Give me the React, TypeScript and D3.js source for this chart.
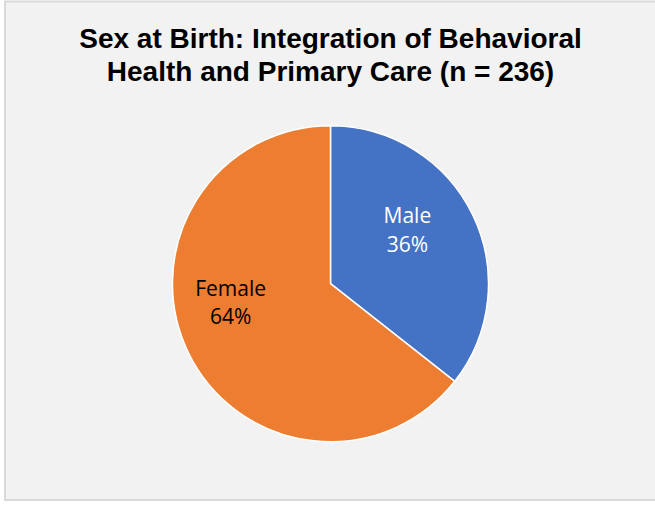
import React from "react";
import * as d3 from "d3";

const categories = ["Male", "Female"];
const values = [35.6, 64.4];
const colors = ["#4472C4", "#ED7D31"];
const labelColors = ["#FFFFFF", "#000000"];
const labelNudges: [number, number][] = [[-8.4, -4.6], [-14.6, -15.3]];
const titleLines = [
  "Sex at Birth: Integration of Behavioral",
  "Health and Primary Care (n = 236)",
];

const W = 655;
const H = 508;
const cx = 330.5;
const cy = 283.7;
const R = 158;

export default function App() {
  const pie = d3.pie<number>().sort(null).value((d) => d)(values);
  const arc = d3.arc<d3.PieArcDatum<number>>().innerRadius(0).outerRadius(R);
  const labelArc = d3
    .arc<d3.PieArcDatum<number>>()
    .innerRadius(R * 0.6)
    .outerRadius(R * 0.6);
  const pct = (v: number) => Math.round(v) + "%";
  return (
    <div style={{ position: "absolute", left: 0, top: 0 }}>
      <svg width={W} height={H} style={{ display: "block" }}>
        <rect x={0} y={0} width={W} height={H} fill="#ffffff" />
        <rect x={5} y={1.5} width={W + 10} height={498.5} fill="#F2F2F2" stroke="#D9D9D9" strokeWidth={2} />
        <g fontFamily="'Liberation Sans', Arial, sans-serif" fontWeight="bold" fontSize={28} fill="#000" textAnchor="middle">
          {titleLines.map((t, i) => (
            <text key={i} x={cx} y={48 + i * 33}>
              {t}
            </text>
          ))}
        </g>
        <g transform={`translate(${cx},${cy})`}>
          {pie.map((p, i) => (
            <path key={i} d={arc(p) || ""} fill={colors[i]} stroke="#FFFFFF" strokeWidth={1.5} strokeLinejoin="round" />
          ))}
          {pie.map((p, i) => {
            const [x, y] = labelArc.centroid(p);
            const lx = x + labelNudges[i][0];
            const ly = y + labelNudges[i][1];
            return (
              <text key={"l" + i} fontFamily="'Open Sans', sans-serif" fontSize={21} fill={labelColors[i]} textAnchor="middle">
                <tspan x={lx} y={ly - 14.3}>{categories[i]}</tspan>
                <tspan x={lx} y={ly + 14.3}>{pct(values[i])}</tspan>
              </text>
            );
          })}
        </g>
      </svg>
    </div>
  );
}
